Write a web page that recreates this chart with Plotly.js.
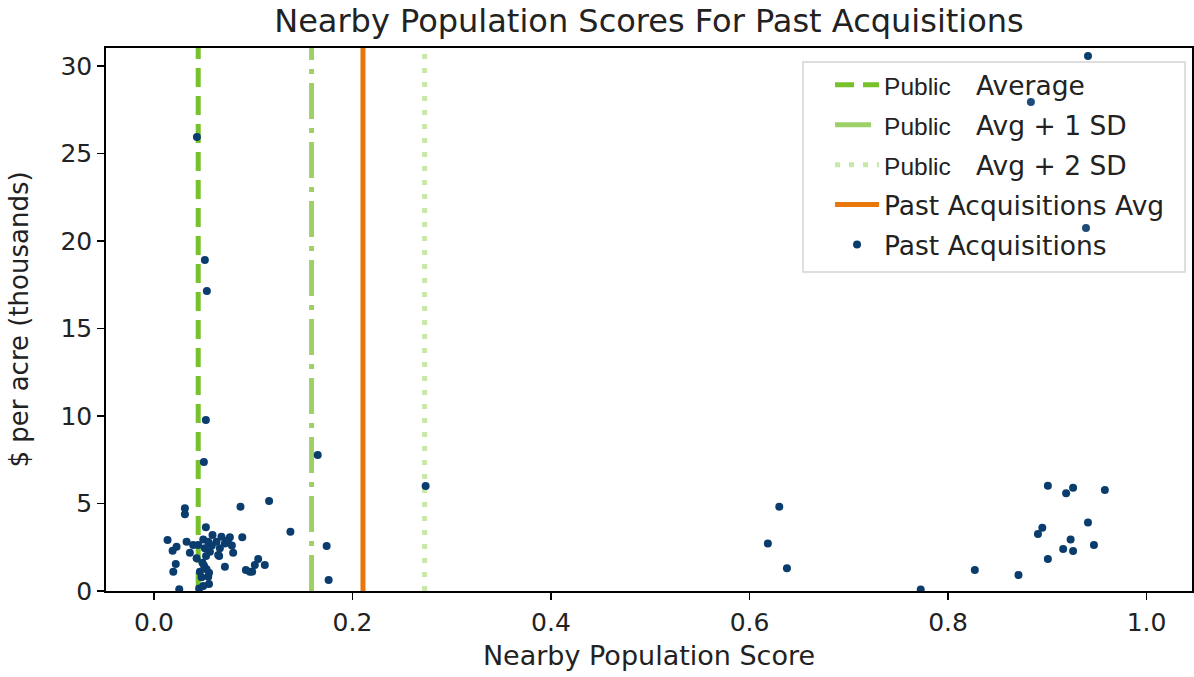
<!DOCTYPE html>
<html>
<head>
<meta charset="utf-8">
<script src="https://cdn.plot.ly/plotly-3.0.1.min.js"></script>
<style>html,body{margin:0;padding:0;background:#fff;}#chart{width:1194px;height:677px;}</style>
</head>
<body>
<div id="chart"></div>
<script>
// Past acquisitions: nearby population score vs $ per acre (thousands)
const acqScore = [
  0.0433, 0.0513, 0.0533, 0.0523, 0.0503, 0.165, 0.2737, 0.116, 0.0872, 0.1375, 0.174, 0.176,
  0.0312, 0.0312, 0.0523, 0.0137, 0.0329, 0.0228, 0.0188, 0.059, 0.068, 0.0765, 0.089, 0.0497,
  0.0446, 0.0547, 0.063, 0.0715, 0.0798, 0.0664, 0.0362, 0.043, 0.0564, 0.0657, 0.022, 0.0195,
  0.0489, 0.053, 0.0463, 0.0547, 0.048, 0.0715, 0.0926, 0.099, 0.105, 0.1016, 0.1117, 0.0966,
  0.0255, 0.0456, 0.0497, 0.0395, 0.0513, 0.0583, 0.0745, 0.0525, 0.0505, 0.0555, 0.0555, 0.0785,
  0.0647,
  0.63, 0.6185, 0.6377, 0.7725, 0.827, 0.871,
  0.9006, 0.926, 0.919, 0.958, 0.941, 0.895, 0.8906, 0.9235, 0.947, 0.916, 0.926, 0.9006,
  0.941, 0.8835, 0.939
];
const acqPrice = [
  25.94, 18.91, 17.14, 9.77, 7.37, 7.77, 6.0, 5.14, 4.82, 3.39, 2.57, 0.63,
  4.73, 4.38, 3.64, 2.91, 2.82, 2.53, 2.3, 3.2, 3.1, 3.07, 3.07, 2.95,
  2.63, 2.82, 2.82, 2.72, 2.19, 2.44, 2.19, 1.87, 2.25, 2.0, 1.54, 1.1,
  1.62, 1.24, 1.1, 0.82, 0.78, 1.39, 1.2, 1.1, 1.83, 1.49, 1.49, 1.1,
  0.1, 0.15, 0.29, 2.63, 2.45, 2.6, 2.9, 2.0, 1.45, 1.05, 0.4, 2.6,
  2.06,
  4.82, 2.72, 1.3, 0.08, 1.2, 0.91,
  6.02, 5.9, 5.58, 5.77, 3.92, 3.62, 3.26, 2.95, 2.63, 2.4, 2.29, 1.83,
  30.57, 27.94, 20.74
];

// Reference lines (x positions)
const refNames  = ['Public Average', 'Public Avg + 1 SD', 'Public Avg + 2 SD', 'Past Acquisitions Avg'];
const refValues = [0.0446, 0.1588, 0.2727, 0.2106];

const xTicks = [0.0, 0.2, 0.4, 0.6, 0.8, 1.0];
const yTicks = [0, 5, 10, 15, 20, 25, 30];

const pub = '<span style="font-family:Liberation Sans;font-size:24.5px">Public</span>\u00a0\u00a0\u00a0';
const refLabels = [pub + 'Average', pub + 'Avg + 1 SD', pub + 'Avg + 2 SD', 'Past Acquisitions Avg'];
const refStyles = [
  {color: '#77c12b', dash: '19px,9px'},
  {color: '#9dd168', dash: '36px,9px,5px,9px'},
  {color: '#c8e8a6', dash: '5px,9px'},
  {color: '#e8780c', dash: 'solid'}
];

const shapes = refValues.map((v, i) => ({
  type: 'line', xref: 'x', yref: 'paper', x0: v, x1: v, y0: 0, y1: 1,
  line: {color: refStyles[i].color, width: 5, dash: refStyles[i].dash},
  layer: 'below',
  showlegend: true, name: refLabels[i], legendrank: i + 1, legendgroup: 'g' + i
}));
// legend frame (drawn as a box behind the legend entries)
shapes.push({
  type: 'rect', xref: 'paper', yref: 'paper', x0: 0.6418, x1: 0.9936, y0: 0.5875, y1: 0.9742,
  line: {color: '#d4d4d4', width: 1.5}, fillcolor: 'rgba(255,255,255,0.08)', layer: 'above'
});

const traces = [{
  type: 'scatter', mode: 'markers', x: acqScore, y: acqPrice,
  name: 'Past Acquisitions', legendrank: 5, legendgroup: 'g4',
  marker: {color: '#0a3d6e', size: 8}
}];

const font = {family: 'DejaVu Sans, sans-serif', color: '#222'};

const layout = {
  width: 1194, height: 677,
  margin: {l: 106, r: 2, t: 48, b: 86},
  paper_bgcolor: '#fff', plot_bgcolor: '#fff',
  font: Object.assign({size: 26}, font),
  title: {text: 'Nearby Population Scores For Past Acquisitions', x: 0.5, xref: 'paper', xanchor: 'center',
          y: 1 - 21/677, yref: 'container', yanchor: 'middle', font: Object.assign({}, font, {size: 32})},
  xaxis: {
    range: [-0.0483, 1.0458], tickvals: xTicks, tickformat: '.1f',
    showgrid: false, zeroline: false, showline: true, mirror: true, linecolor: '#000', linewidth: 1.8,
    ticks: 'outside', ticklen: 7, tickwidth: 1.6, tickcolor: '#000', ticklabelstandoff: 1,
    tickfont: Object.assign({}, font, {size: 25}),
    title: {text: 'Nearby Population Score', font: Object.assign({}, font, {size: 27}), standoff: 10}
  },
  yaxis: {
    range: [0, 31.03], tickvals: yTicks,
    showgrid: false, zeroline: false, showline: true, mirror: true, linecolor: '#000', linewidth: 1.8,
    ticks: 'outside', ticklen: 7, tickwidth: 1.6, tickcolor: '#000',
    tickfont: Object.assign({}, font, {size: 25}),
    title: {text: '$ per acre (thousands)', font: Object.assign({}, font, {size: 26}), standoff: 24}
  },
  shapes: shapes,
  showlegend: true,
  legend: {
    x: 0.6667, y: 0.976, xanchor: 'left', yanchor: 'top',
    bgcolor: 'rgba(0,0,0,0)', borderwidth: 0,
    font: Object.assign({}, font, {size: 26.5}),
    itemwidth: 44,
    traceorder: 'grouped', tracegroupgap: 2.5
  }
};

Plotly.newPlot('chart', traces, layout, {staticPlot: true, displayModeBar: false});
</script>
</body>
</html>
